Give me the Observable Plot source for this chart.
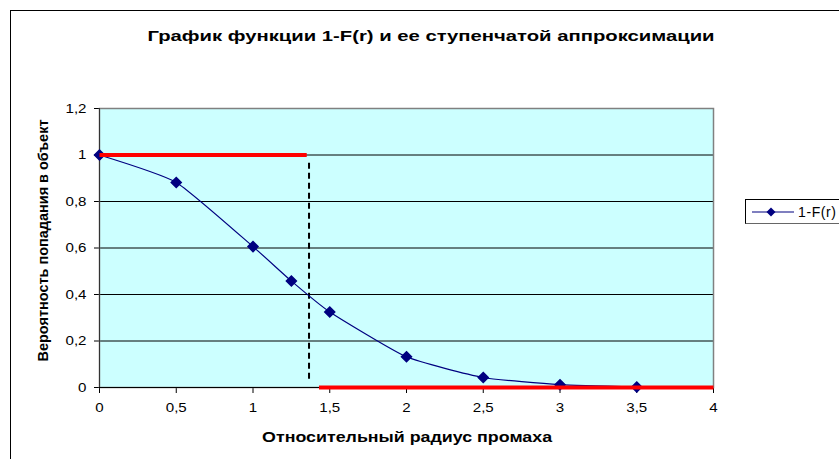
<!DOCTYPE html>
<html><head><meta charset="utf-8">
<script src="https://cdn.jsdelivr.net/npm/d3@7"></script>
<script src="https://cdn.jsdelivr.net/npm/@observablehq/plot@0.6"></script>
<style>
body{margin:0;background:#fff;overflow:hidden;font-family:"Liberation Sans",Arial,sans-serif}
#wrap{position:relative;width:839px;height:459px;overflow:hidden}
#border{position:absolute;left:10px;top:10px;width:900px;height:600px;border:1.5px solid #000;box-sizing:border-box}
.lab{position:absolute;white-space:nowrap;font-weight:bold;font-size:15px;color:#000;line-height:1}
#chart{position:absolute;left:0;top:0}
#legend{position:absolute;left:745px;top:199px;width:120px;height:25px;border:1px solid #000;border-right:none;border-bottom-color:#666;background:#fff;box-sizing:border-box;display:flex;align-items:center;font-size:14px}
</style></head>
<body><div id="wrap"><div id="border"></div><div id="chart"></div>
<div id="title" class="lab"></div><div id="xlab" class="lab"></div><div id="ylab" class="lab"></div>
<div id="legend"></div></div>
<script>
const titleText = "График функции 1-F(r) и ее ступенчатой аппроксимации";
const xLabel = "Относительный радиус промаха";
const yLabel = "Вероятность попадания в объект";
const seriesName = "1-F(r)";

const radius = [0, 0.5, 1, 1.25, 1.5, 2, 2.5, 3, 3.5];
const prob = [1, 0.882, 0.606, 0.458, 0.325, 0.132, 0.043, 0.012, 0.002];

const stepStart = [0, 1.43];
const stepEnd = [1.35, 4];
const stepLevel = [1, 0];

const cutoffR = [1.365];
const cutoffTop = [0.965];
const cutoffBottom = [0.02];

const xTicks = [0, 0.5, 1, 1.5, 2, 2.5, 3, 3.5, 4];
const yTicks = [0, 0.2, 0.4, 0.6, 0.8, 1, 1.2];

const fmt = d => String(d).replace(".", ",");

const pts = radius.map((r, i) => ({r, p: prob[i]}));
const steps = stepStart.map((s, i) => ({x1: s, x2: stepEnd[i], y: stepLevel[i]}));
const cut = cutoffR.map((r, i) => ({x: r, y1: cutoffTop[i], y2: cutoffBottom[i]}));

const chart = Plot.plot({
  width: 839, height: 459,
  marginLeft: 99, marginRight: 126, marginTop: 108, marginBottom: 72,
  style: {fontFamily: '"Liberation Sans", Arial, sans-serif', fontSize: "13.5px", color: "#000", background: "transparent"},
  x: {domain: [0, 4], ticks: xTicks, tickFormat: fmt, label: null, tickSize: 6, tickPadding: 9},
  y: {domain: [0, 1.2], ticks: yTicks, tickFormat: fmt, label: null, tickSize: 5, tickPadding: 8},
  marks: [
    Plot.frame({fill: "#CCFFFF", stroke: "none"}),
    Plot.ruleY(yTicks.filter(d => d > 0 && d < 1.2), {stroke: "#000", strokeWidth: 1}),
    Plot.frame({stroke: "#808080", strokeWidth: 1.5}),
    Plot.ruleY([0], {stroke: "#000", strokeWidth: 1}),
    Plot.ruleX([0], {stroke: "#333", strokeWidth: 1}),
    Plot.ruleX(cut, {x: "x", y1: "y1", y2: "y2", stroke: "#000", strokeWidth: 2, strokeDasharray: "6,4"}),
    Plot.line(pts, {x: "r", y: "p", stroke: "#000080", strokeWidth: 1.2, curve: "cardinal", tension: 0.5}),
    Plot.dot(pts, {x: "r", y: "p", symbol: "diamond2", r: 4.5, fill: "#000080", stroke: "#000080"}),
    Plot.link(steps, {x1: "x1", x2: "x2", y1: "y", y2: "y", stroke: "#FF0000", strokeWidth: 4})
  ]
});
document.getElementById("chart").appendChild(chart);

// widen tick labels to match the reference's stretched glyphs
chart.querySelectorAll('g[aria-label$="tick label"] text').forEach(t => {
  const w = t.getComputedTextLength();
  t.setAttribute("textLength", (w * 1.12).toFixed(1));
  t.setAttribute("lengthAdjust", "spacingAndGlyphs");
});

function place(id, text, cx, cy, width, rotate) {
  const el = document.getElementById(id);
  el.textContent = text;
  const w = el.getBoundingClientRect().width;
  const h = el.getBoundingClientRect().height;
  const k = width / w;
  el.style.left = (cx - w / 2) + "px";
  el.style.top = (cy - h / 2) + "px";
  el.style.transformOrigin = "50% 50%";
  el.style.transform = (rotate ? "rotate(-90deg) " : "") + `scaleX(${k})`;
}
place("title", titleText, 431.5, 35, 567, false);
place("xlab", xLabel, 407, 436, 290, false);
place("ylab", yLabel, 42, 240, 242, true);

// legend
const leg = document.getElementById("legend");
const ns = "http://www.w3.org/2000/svg";
const ls = document.createElementNS(ns, "svg");
ls.setAttribute("width", 50); ls.setAttribute("height", 22);
ls.innerHTML = '<line x1="6" y1="11" x2="48" y2="11" stroke="#000080" stroke-width="1.2"/><path d="M25,6.5L29.5,11L25,15.5L20.5,11Z" fill="#000080"/>';
leg.appendChild(ls);
const lt = document.createElement("span");
lt.textContent = seriesName;
lt.style.marginLeft = "2px";
lt.style.letterSpacing = "0.6px";
leg.appendChild(lt);
</script></body></html>
